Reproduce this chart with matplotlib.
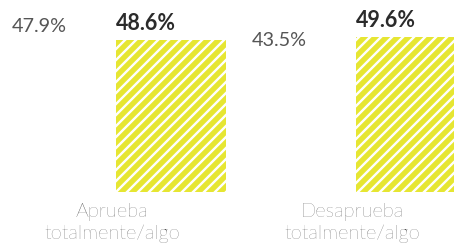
import matplotlib.pyplot as plt
import numpy as np

# data
categories = ["Aprueba\ntotalmente/algo", "Desaprueba\ntotalmente/algo"]
previo = [47.9, 43.5]
actual = [48.6, 49.6]

DPI = 66
plt.rcParams['font.family'] = ['Lato', 'DejaVu Sans']
plt.rcParams['hatch.linewidth'] = 2.6
plt.rcParams['hatch.color'] = 'white'

fig = plt.figure(figsize=(454 / DPI, 248 / DPI), dpi=DPI)
ax = fig.add_axes([0, 56 / 248, 1, 1 - 56 / 248])

x = np.arange(len(categories))
off = 0.217
w = 0.458

ax.bar(x - off, previo, w, color='white')
ax.bar(x + off, actual, w, color='#e6e632', edgecolor='white', linewidth=0, hatch='//')

for xi, v in zip(x - off - w / 2, previo):
    ax.annotate(f"{v}%", (xi, v), xytext=(0, 7 * 72 / DPI), textcoords='offset points',
                ha='left', va='bottom', fontsize=21.5, color='#555555')
for xi, v in zip(x + off - w / 2, actual):
    ax.annotate(f"{v}%", (xi, v), xytext=(0, 6 * 72 / DPI), textcoords='offset points',
                ha='left', va='bottom', fontsize=23.5, color='#2b2b2b', fontweight='bold')

ax.set_xlim(-0.496, 1.396)
ax.set_ylim(0, 61.3)
ax.set_xticks(x - 0.03)
ax.set_xticklabels(categories, fontsize=22, color='#3a3a3a', fontweight='light', linespacing=1.25)
ax.tick_params(axis='x', length=0, pad=11 * 72 / DPI)
ax.set_yticks([])
for s in ax.spines.values():
    s.set_visible(False)

fig.savefig('out.png', dpi=DPI)
